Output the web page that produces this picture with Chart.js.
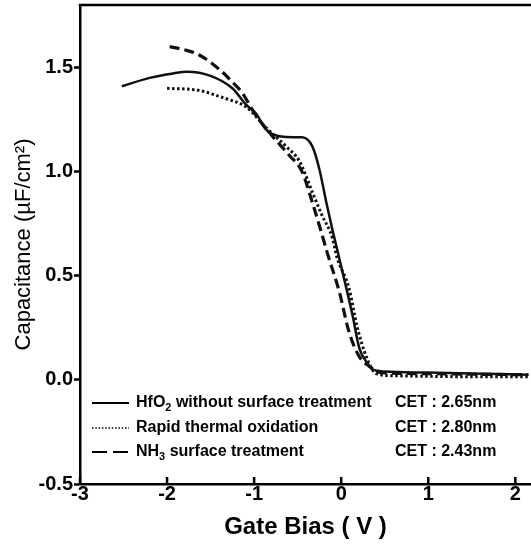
<!DOCTYPE html>
<html>
<head>
<meta charset="utf-8">
<title>C-V curves</title>
<script src="https://cdn.jsdelivr.net/npm/chart.js@4/dist/chart.umd.min.js"></script>
<style>
  html, body { margin: 0; padding: 0; background: #fff; }
  canvas { display: block; }
</style>
</head>
<body>
<canvas id="cv" width="531" height="547"></canvas>
<script>
// Gate bias (V) / capacitance (uF/cm2)
const hfo2X = [-2.52, -2.2, -1.95, -1.77, -1.5, -1.25, -1.09, -0.98, -0.87, -0.79, -0.71, -0.55, -0.45, -0.33, -0.25, -0.17, -0.10, -0.02, 0.13, 0.21, 0.30, 0.36, 0.5, 1.0, 1.5, 2.15];
const hfo2Y = [1.41, 1.45, 1.47, 1.48, 1.46, 1.40, 1.32, 1.28, 1.205, 1.18, 1.17, 1.165, 1.165, 1.12, 1.01, 0.85, 0.72, 0.58, 0.31, 0.15, 0.08, 0.05, 0.04, 0.035, 0.03, 0.025];

const rtoX = [-2.0, -1.63, -1.43, -1.32, -1.09, -0.86, -0.63, -0.48, -0.33, -0.22, -0.10, -0.05, 0.09, 0.18, 0.29, 0.40, 0.6, 1.0, 1.5, 2.15];
const rtoY = [1.40, 1.39, 1.365, 1.35, 1.31, 1.21, 1.12, 1.05, 0.90, 0.79, 0.68, 0.59, 0.44, 0.26, 0.11, 0.03, 0.02, 0.017, 0.015, 0.015];

const nh3X = [-1.97, -1.8, -1.63, -1.37, -1.25, -1.14, -0.98, -0.79, -0.60, -0.45, -0.33, -0.25, -0.16, -0.02, 0.09, 0.21, 0.32, 0.45, 1.0, 1.5, 2.15];
const nh3Y = [1.60, 1.585, 1.56, 1.48, 1.43, 1.38, 1.27, 1.17, 1.08, 1.00, 0.85, 0.74, 0.61, 0.42, 0.23, 0.11, 0.066, 0.035, 0.03, 0.027, 0.025];

const xTicks = [-3, -2, -1, 0, 1, 2];
const yTicks = [-0.5, 0.0, 0.5, 1.0, 1.5];

// legend text, {n} = subscript
const seriesNames = ['HfO{2} without surface treatment', 'Rapid thermal oxidation', 'NH{3} surface treatment'];
const cetLabels = ['CET : 2.65nm', 'CET : 2.80nm', 'CET : 2.43nm'];

const FONT = "'Liberation Sans', Arial, sans-serif";

function pts(xs, ys) {
  return xs.map((x, i) => ({ x: x, y: ys[i] }));
}

const styles = [
  { width: 2.5, dash: [], legendDash: [], legendWidth: 2 },
  { width: 3, dash: [2.5, 2.5], legendDash: [1.5, 1.8], legendWidth: 1.5 },
  { width: 3.2, dash: [10, 5], legendDash: [15, 6], legendWidth: 2 }
];

// axis frame, inward x ticks and the legend block
const decor = {
  id: 'decor',
  afterDraw(chart) {
    const ctx = chart.ctx;
    const area = chart.chartArea;
    const xs = chart.scales.x;
    ctx.save();
    ctx.strokeStyle = '#000';
    ctx.lineWidth = 2.5;
    ctx.beginPath();
    ctx.moveTo(area.left - 1.25, area.top);
    ctx.lineTo(area.right, area.top);
    ctx.stroke();

    xs.ticks.forEach((t) => {
      const px = xs.getPixelForValue(t.value);
      ctx.beginPath();
      ctx.moveTo(px, area.bottom);
      ctx.lineTo(px, area.bottom - 7);
      ctx.stroke();
    });

    const rowY = [403, 428, 452];
    ctx.fillStyle = '#000';
    ctx.textBaseline = 'middle';
    seriesNames.forEach((name, i) => {
      const y = rowY[i];
      ctx.lineWidth = styles[i].legendWidth;
      ctx.setLineDash(styles[i].legendDash);
      ctx.beginPath();
      ctx.moveTo(92, y);
      ctx.lineTo(129, y);
      ctx.stroke();
      ctx.setLineDash([]);

      let x = 136;
      const parts = name.split(/(\{[^}]*\})/);
      parts.forEach((p) => {
        if (!p) return;
        if (p[0] === '{') {
          const s = p.slice(1, -1);
          ctx.font = 'bold 11px ' + FONT;
          ctx.fillText(s, x, y + 5);
          x += ctx.measureText(s).width;
        } else {
          ctx.font = 'bold 16px ' + FONT;
          ctx.fillText(p, x, y);
          x += ctx.measureText(p).width;
        }
      });
      ctx.font = 'bold 16px ' + FONT;
      ctx.fillText(cetLabels[i], 395, y);
    });
    ctx.restore();
  }
};

new Chart(document.getElementById('cv'), {
  type: 'scatter',
  data: {
    datasets: [
      { label: 'HfO2', data: pts(hfo2X, hfo2Y) },
      { label: 'RTO', data: pts(rtoX, rtoY) },
      { label: 'NH3', data: pts(nh3X, nh3Y) }
    ].map((d, i) => Object.assign(d, {
      showLine: true,
      pointRadius: 0,
      borderColor: '#111',
      borderWidth: styles[i].width,
      borderDash: styles[i].dash,
      cubicInterpolationMode: 'monotone',
      fill: false
    }))
  },
  options: {
    responsive: false,
    animation: false,
    layout: { padding: { top: 5, right: 0, left: 0, bottom: 0 } },
    plugins: { legend: { display: false }, tooltip: { enabled: false } },
    scales: {
      x: {
        type: 'linear',
        min: -3,
        max: 2.18,
        afterBuildTicks: (axis) => { axis.ticks = xTicks.map((v) => ({ value: v })); },
        afterFit: (s) => { s.height = 63; },
        ticks: { color: '#000', padding: -2, font: { family: FONT, size: 20, weight: 'bold' } },
        grid: { drawOnChartArea: false, drawTicks: false },
        border: { color: '#000', width: 2.5 },
        title: {
          display: true,
          text: 'Gate Bias ( V )',
          color: '#000',
          font: { family: FONT, size: 24, weight: 'bold' },
          padding: { top: 0, bottom: 5 }
        }
      },
      y: {
        min: -0.5,
        max: 1.8,
        afterBuildTicks: (axis) => { axis.ticks = yTicks.map((v) => ({ value: v })); },
        afterFit: (s) => { s.width = 80; s.paddingTop = 0; s.paddingBottom = 0; },
        ticks: {
          color: '#000',
          padding: 1,
          font: { family: FONT, size: 20, weight: 'bold' },
          callback: (v) => v.toFixed(1)
        },
        grid: { drawOnChartArea: false, tickLength: 6, tickWidth: 2.5, tickColor: '#000' },
        border: { color: '#000', width: 2.5 },
        title: {
          display: true,
          text: 'Capacitance (\u00b5F/cm\u00b2)',
          color: '#000',
          font: { family: FONT, size: 22, weight: 'normal' },
          padding: { top: 11, bottom: 0 }
        }
      }
    }
  },
  plugins: [decor]
});
</script>
</body>
</html>
